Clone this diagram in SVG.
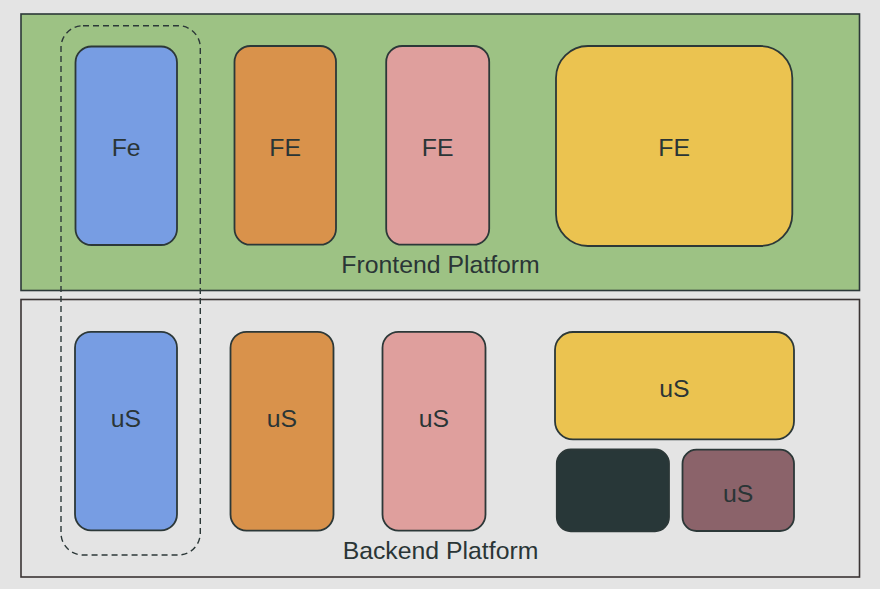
<svg xmlns="http://www.w3.org/2000/svg" width="880" height="589" viewBox="0 0 880 589">
<style>
.bg{fill:#e4e4e4}
.node{stroke:#2c3838;stroke-width:1.8}
.lbl{font-family:"Liberation Sans",Arial,sans-serif;font-size:24.8px;fill:#2a3536;text-anchor:middle}
.dash{fill:none;stroke:#2c3838;stroke-width:1.4;stroke-dasharray:6,4}
</style>
<rect class="bg" x="0" y="0" width="880" height="589"/>
<g id="frontend-platform">
<rect x="21" y="14" width="838.5" height="276.5" fill="#9dc284" stroke="#2c3838" stroke-width="1.6"/>
<text class="lbl" x="440.5" y="273.3">Frontend Platform</text>
</g>
<g id="backend-platform">
<rect x="21" y="299.5" width="838.5" height="277.5" fill="#e4e4e4" stroke="#3a3434" stroke-width="1.6"/>
<text class="lbl" x="440.5" y="559.3">Backend Platform</text>
</g>
<g id="fe-blue">
<rect class="node" x="75.5" y="46.5" width="101.5" height="198.5" rx="16" fill="#779de3"/>
<text class="lbl" x="126.2" y="155.5">Fe</text>
</g>
<g id="fe-orange">
<rect class="node" x="234.5" y="46" width="101.5" height="198.7" rx="16" fill="#d9924b"/>
<text class="lbl" x="285.2" y="155.5">FE</text>
</g>
<g id="fe-pink">
<rect class="node" x="386.2" y="46" width="103" height="198.7" rx="16" fill="#df9f9d"/>
<text class="lbl" x="437.7" y="155.5">FE</text>
</g>
<g id="fe-yellow">
<rect class="node" x="556" y="46" width="236.3" height="200" rx="32" fill="#ebc350"/>
<text class="lbl" x="674.2" y="155.8">FE</text>
</g>
<g id="us-blue">
<rect class="node" x="75" y="331.8" width="102" height="198.5" rx="16" fill="#779de3"/>
<text class="lbl" x="126" y="426.5">uS</text>
</g>
<g id="us-orange">
<rect class="node" x="230.5" y="331.8" width="103" height="198.8" rx="16" fill="#d9924b"/>
<text class="lbl" x="282" y="426.5">uS</text>
</g>
<g id="us-pink">
<rect class="node" x="382.5" y="331.8" width="103" height="198.8" rx="16" fill="#df9f9d"/>
<text class="lbl" x="434" y="426.5">uS</text>
</g>
<g id="us-yellow">
<rect class="node" x="555" y="332" width="239" height="107.3" rx="18" fill="#ebc350"/>
<text class="lbl" x="674.5" y="396.5">uS</text>
</g>
<g id="us-dark">
<rect class="node" x="556.8" y="449.5" width="112.2" height="81.8" rx="14" fill="#283738"/>
</g>
<g id="us-mauve">
<rect class="node" x="682.5" y="449.7" width="111.5" height="81.3" rx="14" fill="#8b636a"/>
<text class="lbl" x="738.2" y="501.5">uS</text>
</g>
<g id="connectors">
<rect id="vertical-slice" class="dash" x="61" y="25.7" width="139.3" height="529.3" rx="22"/>
</g>
</svg>
